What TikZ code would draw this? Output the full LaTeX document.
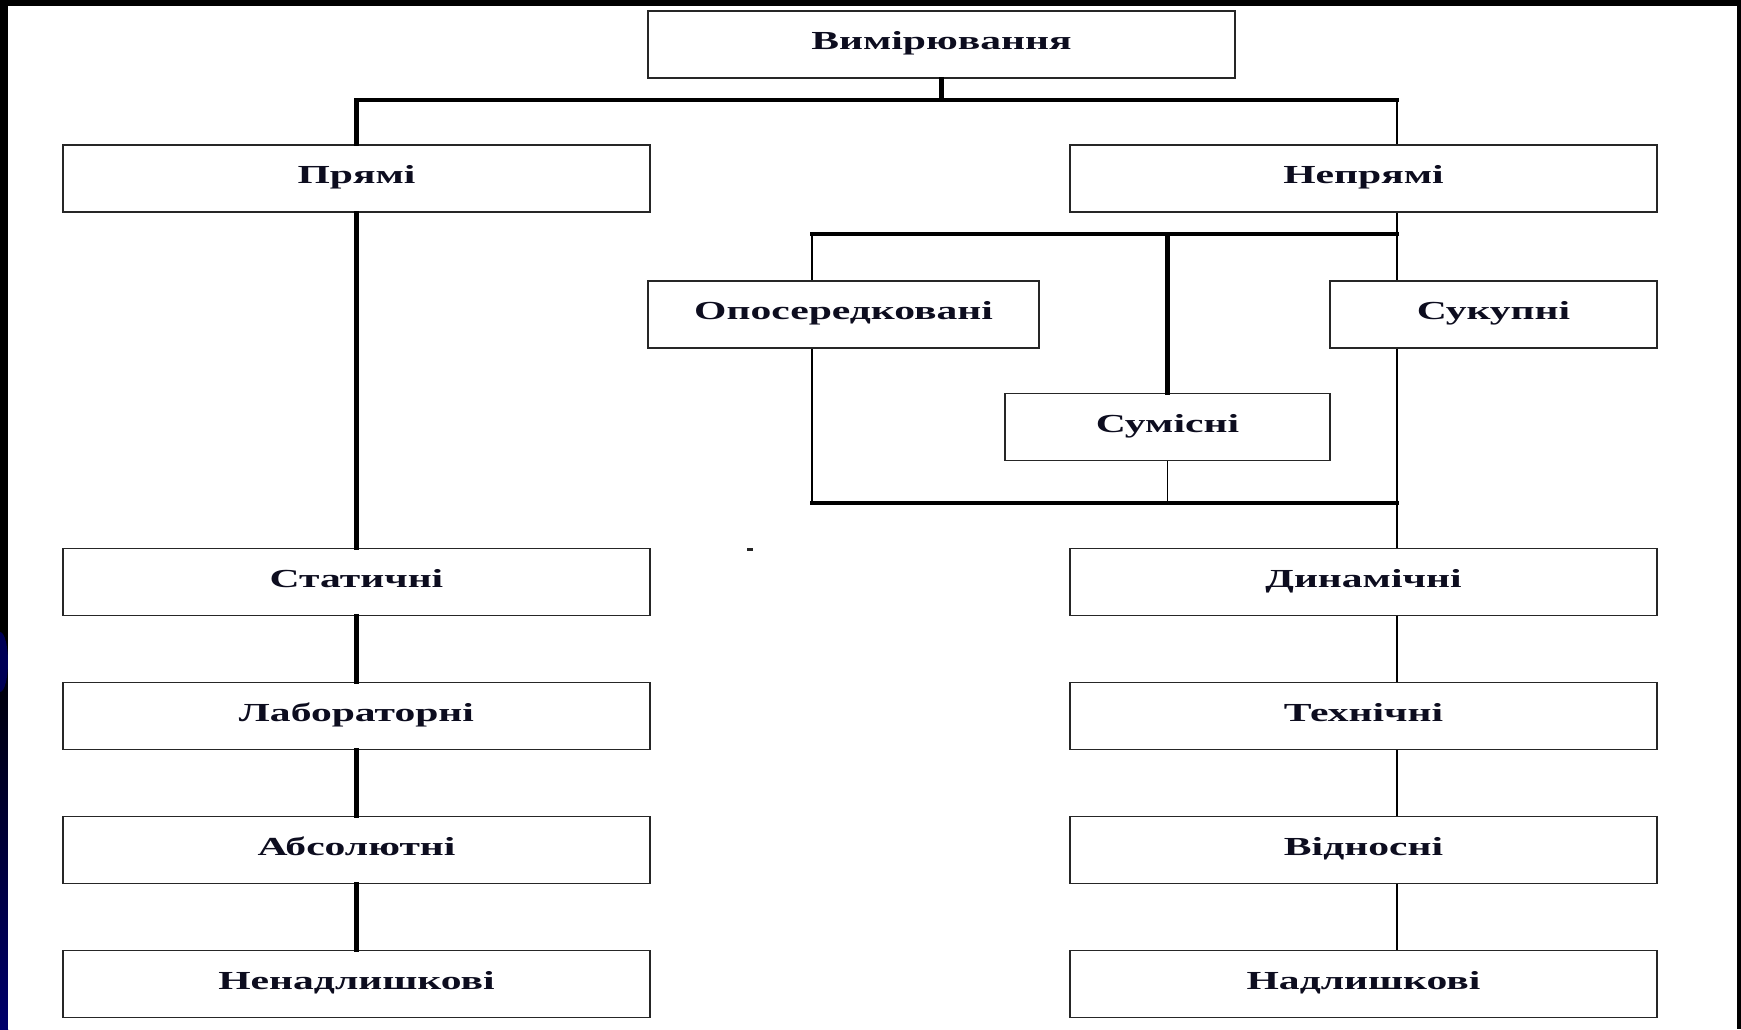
\documentclass[tikz,border=0pt]{standalone}
\usepackage{fontspec}
\newfontfamily\boxfont[FakeStretch=1.6]{Liberation Serif}
\definecolor{navyedge}{rgb}{0,0,0.42}
\definecolor{boxline}{gray}{0.15}
\definecolor{inkcol}{rgb}{0.05,0.05,0.12}
\begin{document}
\begin{tikzpicture}[x=1pt,y=1pt,
  box/.style={draw=boxline, line width=1.8pt, fill=white, rectangle,
    minimum height=67pt, inner sep=0pt, text=inkcol,
    font=\boxfont\bfseries\fontsize{26}{30}\selectfont,
    text height=18pt, text depth=8pt},
  widebox/.style={box, minimum width=587pt},
  heavy/.style={line width=4.2pt, line cap=rect},
  light/.style={line width=1.8pt}]
\useasboundingbox (0,0) rectangle (1741,-1029);
% frame of the slide
\fill[black] (0,0) rectangle (1741,-1029);
\shade[top color=black, bottom color=navyedge] (0,-640) rectangle (8,-1029);
\fill[navyedge!80!black] (0,-662) ellipse (8pt and 30pt);
\fill[white] (8,-6) rectangle (1737,-1029);

% junction points
\coordinate (tj) at (941.5,-100);
\coordinate (xR) at (1397,-100);
\coordinate (bL) at (812,-234);
\coordinate (bR) at (1397,-234);
\coordinate (dL) at (812,-503);
\coordinate (dR) at (1397,-503);

% boxes
\node[widebox] (top)  at (941.5,-44.5) {Вимірювання};
\node[widebox] (pr)   at (356.5,-178.5) {Прямі};
\node[widebox] (npr)  at (1363.5,-178.5) {Непрямі};
\node[box, minimum width=391pt] (opo) at (843.5,-314.5) {Опосередковані};
\node[box, minimum width=327pt] (suk) at (1493.5,-314.5) {Сукупні};
\node[box, minimum width=325pt] (sum) at (1167.5,-427) {Сумісні};

\node[widebox] (st)  at (356.5,-582) {Статичні};
\node[widebox] (lab) at (356.5,-716) {Лабораторні};
\node[widebox] (abs) at (356.5,-850) {Абсолютні};
\node[widebox] (nen) at (356.5,-984) {Ненадлишкові};

\node[widebox] (dyn) at (1363.5,-582) {Динамічні};
\node[widebox] (teh) at (1363.5,-716) {Технічні};
\node[widebox] (vid) at (1363.5,-850) {Відносні};
\node[widebox] (nad) at (1363.5,-984) {Надлишкові};

% top level
\draw[heavy] (top.south) -- (tj);
\draw[heavy] (pr.north) -- (pr.north |- tj) -- (xR);
\draw[light] (xR) -- (xR |- npr.north);

% left column
\draw[heavy] (pr.south) -- (st.north);
\draw[heavy] (st.south) -- (lab.north);
\draw[heavy] (lab.south) -- (abs.north);
\draw[heavy] (abs.south) -- (nen.north);

% indirect branch
\draw[light] (xR |- npr.south) -- (xR |- suk.north);
\draw[light] (xR |- suk.south) -- (xR |- dyn.north);
\draw[heavy] (bL) -- (bR);
\draw[light] (bL) -- (bL |- opo.north);
\draw[light] (bL |- opo.south) -- (dL);
\draw[heavy] (sum.north |- bL) -- (sum.north);
\draw[light] (sum.south) -- (sum.south |- dL);
\draw[heavy] (dL) -- (dR);

% right column
\draw[light] (xR |- dyn.south) -- (xR |- teh.north);
\draw[light] (xR |- teh.south) -- (xR |- vid.north);
\draw[light] (xR |- vid.south) -- (xR |- nad.north);

% small speck
\fill[black!85] (747,-548) rectangle (753,-551);
\end{tikzpicture}
\end{document}
